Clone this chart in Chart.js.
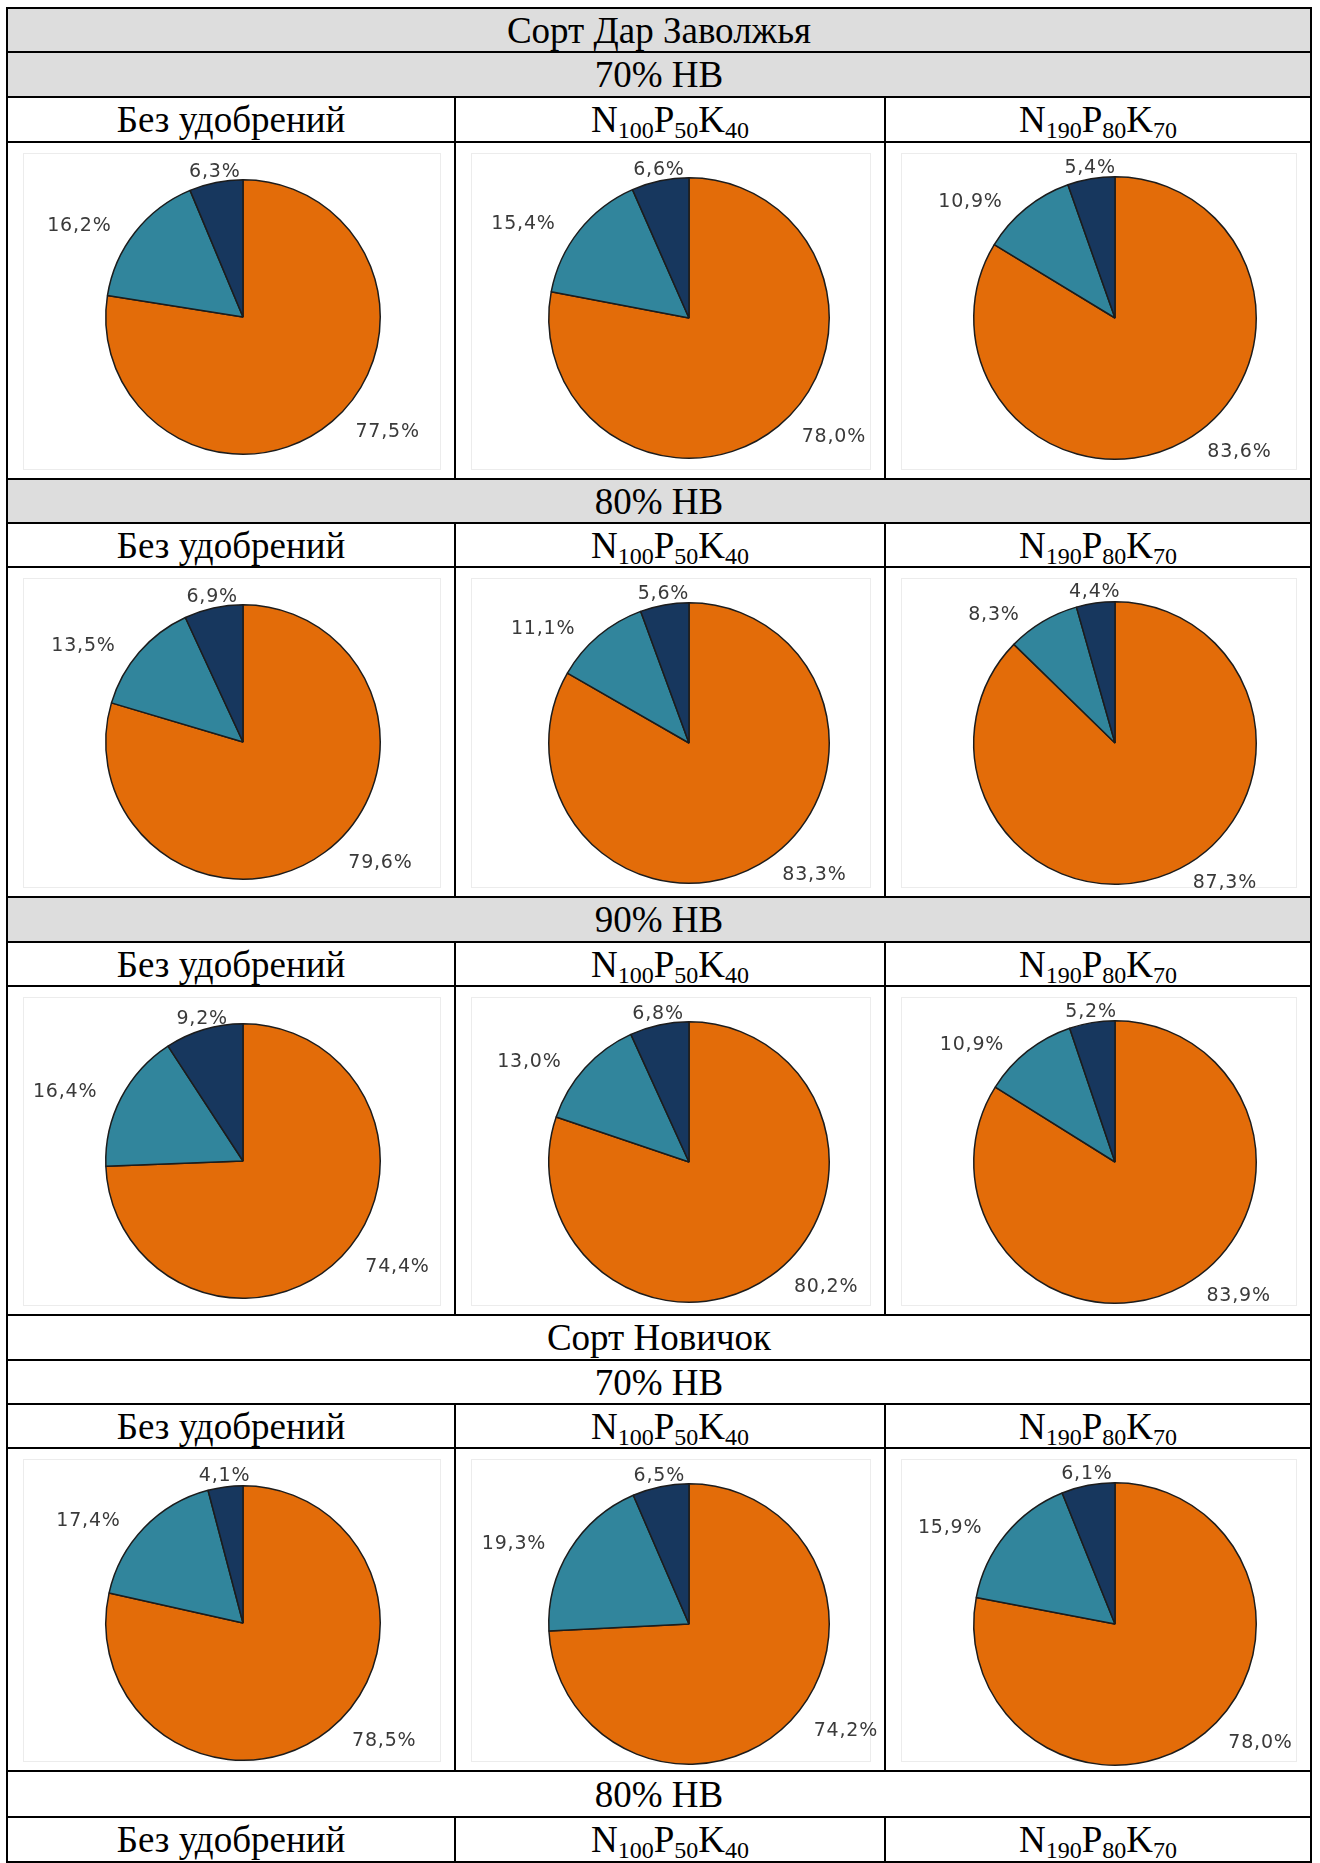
<!DOCTYPE html>
<html lang="ru">
<head>
<meta charset="utf-8">
<title>Сорт Дар Заволжья, Сорт Новичок</title>
<script src="https://cdn.jsdelivr.net/npm/chart.js@4.4.1/dist/chart.umd.min.js"></script>
<style>
  html, body { margin: 0; padding: 0; background: #fff; }
  body { width: 1320px; height: 1863px; overflow: hidden; position: relative; }
  #grid {
    position: absolute; left: 6px; top: 7px; width: 1306px;
    border-collapse: collapse; table-layout: fixed;
    font-family: "Liberation Serif", "Times New Roman", serif; font-size: 37px; color: #000;
  }
  #grid td { border: 2px solid #000; padding: 0; text-align: center; vertical-align: middle; line-height: 1; }
  #grid td.shaded { background: #dddddd; }
  #grid td.pie { position: relative; }
  sub { font-size: 24px; vertical-align: -6px; line-height: 0; }
  .frame { position: absolute; left: 15px; top: 10px; right: 13px; bottom: 8px; border: 1px solid #ececec; }
  .pie canvas { position: absolute; left: 0; top: 0; }
</style>
</head>
<body>
<table id="grid">
  <colgroup><col style="width:448px"><col style="width:430px"><col style="width:426px"></colgroup>
  <tbody id="rows"></tbody>
</table>
<script>
const varieties = ['Сорт Дар Заволжья', 'Сорт Новичок'];
const moistureLevels = ['70% НВ', '80% НВ', '90% НВ'];
const treatments = ['Без удобрений', 'N<sub>100</sub>P<sub>50</sub>K<sub>40</sub>', 'N<sub>190</sub>P<sub>80</sub>K<sub>70</sub>'];

// доли трёх фракций, % (по строкам таблицы, слева направо)
const shareFirst  = [77.5, 78.0, 83.6, 79.6, 83.3, 87.3, 74.4, 80.2, 83.9, 78.5, 74.2, 78.0];
const shareSecond = [16.2, 15.4, 10.9, 13.5, 11.1, 8.3, 16.4, 13.0, 10.9, 17.4, 19.3, 15.9];
const shareThird  = [6.3, 6.6, 5.4, 6.9, 5.6, 4.4, 9.2, 6.8, 5.2, 4.1, 6.5, 6.1];
const sliceColors = ['#e36c09', '#31859c', '#17375e'];

// высоты строк таблицы, px
const rowHeights = [44, 45, 45, 337, 44, 44, 330, 45, 44, 329, 45, 44, 44, 323, 46, 45];
// центр и радиус круга в ячейке каждого столбца
const pieGeometry = [
  { cx: 236, cy: 175, r: 137 },
  { cx: 234, cy: 176, r: 140 },
  { cx: 230, cy: 176, r: 141 }
];

const tbody = document.getElementById('rows');
let rowIndex = 0;
let panel = 0;
const pieCells = [];

function newRow() {
  const tr = document.createElement('tr');
  tr.style.height = rowHeights[rowIndex++] + 'px';
  tbody.appendChild(tr);
  return tr;
}

function addTextRow(html, shaded) {
  const td = document.createElement('td');
  td.colSpan = 3;
  td.innerHTML = html;
  if (shaded) td.className = 'shaded';
  newRow().appendChild(td);
}

function addTreatmentRow() {
  const tr = newRow();
  treatments.forEach(t => {
    const td = document.createElement('td');
    td.innerHTML = t;
    tr.appendChild(td);
  });
}

function addPieRow() {
  const tr = newRow();
  for (let col = 0; col < 3; col++) {
    const td = document.createElement('td');
    td.className = 'pie';
    const frame = document.createElement('div');
    frame.className = 'frame';
    td.appendChild(frame);
    tr.appendChild(td);
    pieCells.push({ td, col, index: panel++ });
  }
}

// Дар Заволжья — серая заливка заголовков
addTextRow(varieties[0], true);
moistureLevels.forEach(level => {
  addTextRow(level, true);
  addTreatmentRow();
  addPieRow();
});

// Новичок
addTextRow(varieties[1], false);
addTextRow(moistureLevels[0], false);
addTreatmentRow();
addPieRow();
addTextRow(moistureLevels[1], false);
addTreatmentRow();

function formatShare(v) {
  return v.toFixed(1).replace('.', ',') + '%';
}

// подписи снаружи круга: точка привязки на биссектрисе сектора,
// сторона текста выбирается по одному из восьми направлений
const sliceLabels = {
  id: 'sliceLabels',
  afterDraw(chart) {
    const ctx = chart.ctx;
    const values = chart.data.datasets[0].data;
    const digitH = 14;
    const push = 22;
    ctx.save();
    ctx.font = '19px "DejaVu Sans", Verdana, sans-serif';
    ctx.letterSpacing = '0.8px';
    ctx.fillStyle = '#3a3a3a';
    ctx.textBaseline = 'alphabetic';
    ctx.textAlign = 'left';
    chart.getDatasetMeta(0).data.forEach((arc, i) => {
      const text = formatShare(values[i]);
      const tw = ctx.measureText(text).width;
      const mid = (arc.startAngle + arc.endAngle) / 2;
      const deg = ((-mid * 180 / Math.PI) % 360 + 360) % 360;
      const vertical = (deg >= 67.5 && deg < 112.5) || (deg >= 247.5 && deg < 292.5);
      const r = arc.outerRadius + (vertical ? 6 : 2);
      const ax = arc.x + Math.cos(mid) * r;
      const ay = arc.y + Math.sin(mid) * r;

      // левый верхний угол блока цифр
      let left, top;
      if (deg <= 22.5 || deg >= 337.5) { left = ax + push; top = ay - digitH / 2; }
      else if (deg < 67.5) { left = ax + push; top = ay - digitH; }
      else if (deg < 112.5) { left = ax - tw / 2; top = ay - digitH; }
      else if (deg <= 157.5) { left = ax - push - tw; top = ay - digitH; }
      else if (deg <= 202.5) { left = ax - push - tw; top = ay - digitH / 2; }
      else if (deg < 247.5) { left = ax - push - tw; top = ay; }
      else if (deg < 292.5) { left = ax - tw / 2; top = ay; }
      else { left = ax + push; top = ay; }

      left = Math.min(Math.max(left, 6), chart.width - 6 - tw);
      top = Math.min(Math.max(top, 4), chart.height - 8 - digitH);
      ctx.fillText(text, left, top + digitH);
    });
    ctx.restore();
  }
};

pieCells.forEach(({ td, col, index }) => {
  const w = td.clientWidth;
  const h = td.clientHeight;
  const canvas = document.createElement('canvas');
  canvas.width = w;
  canvas.height = h;
  canvas.style.width = w + 'px';
  canvas.style.height = h + 'px';
  td.appendChild(canvas);

  const g = pieGeometry[col];
  const size = 2 * g.r + 2;
  const left = g.cx - 1 - size / 2;
  const top = g.cy - 1 - size / 2;

  new Chart(canvas, {
    type: 'pie',
    data: {
      labels: ['1', '2', '3'],
      datasets: [{
        data: [shareFirst[index], shareSecond[index], shareThird[index]],
        backgroundColor: sliceColors,
        borderColor: '#1c1c1c',
        borderWidth: 1.5
      }]
    },
    options: {
      responsive: false,
      animation: false,
      devicePixelRatio: 1,
      layout: { padding: { left: left, top: top, right: w - left - size, bottom: h - top - size } },
      plugins: { legend: { display: false }, tooltip: { enabled: false } }
    },
    plugins: [sliceLabels]
  });
});
</script>
</body>
</html>
